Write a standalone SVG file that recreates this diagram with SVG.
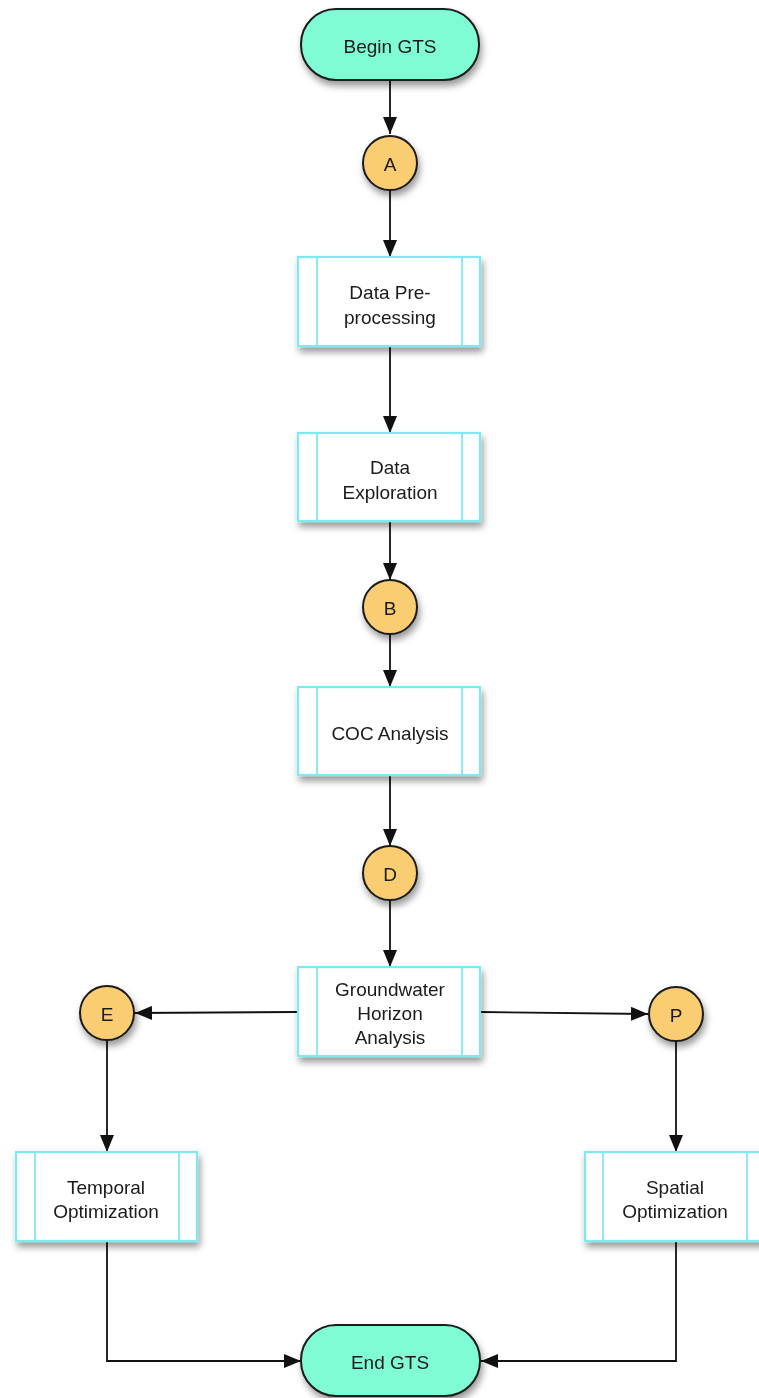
<svg xmlns="http://www.w3.org/2000/svg" width="759" height="1398" viewBox="0 0 759 1398">
<style>
.term{fill:#7ffbd6;stroke:#1a1a1a;stroke-width:2}
.circ{fill:#fbcd72;stroke:#1a1a1a;stroke-width:2}
.box{fill:#ffffff;stroke:#7ee9f0;stroke-width:2.2}
.inner{stroke:#7ee9f0;stroke-width:1.8;fill:none}
text{font-family:"Liberation Sans",Arial,sans-serif;font-size:19px;fill:#1a1a1a;text-anchor:middle;dominant-baseline:central}
.edge{stroke:#111;stroke-width:1.8;fill:none;marker-end:url(#arr)}
</style>
<defs>
<marker id="arr" viewBox="0 0 17 14" refX="17" refY="7" markerWidth="17" markerHeight="14" markerUnits="userSpaceOnUse" orient="auto">
<path d="M0,0 L17,7 L0,14 z" fill="#111"/>
</marker>
<filter id="sh" x="-20%" y="-20%" width="150%" height="150%">
<feDropShadow dx="2" dy="5" stdDeviation="3.5" flood-color="#000" flood-opacity="0.4"/>
</filter>
</defs>
<g id="connectors">
<path class="edge" d="M390,80 L390,134"/>
<path class="edge" d="M390,190 L390,257"/>
<path class="edge" d="M390,346 L390,433"/>
<path class="edge" d="M390,521 L390,580"/>
<path class="edge" d="M390,634 L390,687"/>
<path class="edge" d="M390,775 L390,846"/>
<path class="edge" d="M390,900 L390,967"/>
<path class="edge" d="M297,1012 L135,1013"/>
<path class="edge" d="M481,1012 L648,1014"/>
<path class="edge" d="M107,1040 L107,1152"/>
<path class="edge" d="M676,1041 L676,1152"/>
<path class="edge" d="M107,1241 L107,1361 L301,1361"/>
<path class="edge" d="M676,1241 L676,1361 L481,1361"/>
</g>
<g id="begin" filter="url(#sh)">
<rect class="term" x="301" y="9" width="178" height="71" rx="35" ry="35"/>
<text x="390" y="46">Begin GTS</text>
</g>
<g id="A" filter="url(#sh)">
<circle class="circ" cx="390" cy="163" r="27"/>
<text x="390" y="164">A</text>
</g>
<g id="preproc" filter="url(#sh)">
<rect class="box" x="298" y="257" width="182" height="89"/>
<line class="inner" x1="317" y1="257" x2="317" y2="346"/>
<line class="inner" x1="462" y1="257" x2="462" y2="346"/>
<text x="390" y="292">Data Pre-</text>
<text x="390" y="317">processing</text>
</g>
<g id="explore" filter="url(#sh)">
<rect class="box" x="298" y="433" width="182" height="88"/>
<line class="inner" x1="317" y1="433" x2="317" y2="521"/>
<line class="inner" x1="462" y1="433" x2="462" y2="521"/>
<text x="390" y="467">Data</text>
<text x="390" y="492">Exploration</text>
</g>
<g id="B" filter="url(#sh)">
<circle class="circ" cx="390" cy="607" r="27"/>
<text x="390" y="608">B</text>
</g>
<g id="coc" filter="url(#sh)">
<rect class="box" x="298" y="687" width="182" height="88"/>
<line class="inner" x1="317" y1="687" x2="317" y2="775"/>
<line class="inner" x1="462" y1="687" x2="462" y2="775"/>
<text x="390" y="733">COC Analysis</text>
</g>
<g id="D" filter="url(#sh)">
<circle class="circ" cx="390" cy="873" r="27"/>
<text x="390" y="874">D</text>
</g>
<g id="groundwater" filter="url(#sh)">
<rect class="box" x="298" y="967" width="182" height="89"/>
<line class="inner" x1="317" y1="967" x2="317" y2="1056"/>
<line class="inner" x1="462" y1="967" x2="462" y2="1056"/>
<text x="390" y="989">Groundwater</text>
<text x="390" y="1013">Horizon</text>
<text x="390" y="1037">Analysis</text>
</g>
<g id="E" filter="url(#sh)">
<circle class="circ" cx="107" cy="1013" r="27"/>
<text x="107" y="1014">E</text>
</g>
<g id="P" filter="url(#sh)">
<circle class="circ" cx="676" cy="1014" r="27"/>
<text x="676" y="1015">P</text>
</g>
<g id="temporal" filter="url(#sh)">
<rect class="box" x="16" y="1152" width="181" height="89"/>
<line class="inner" x1="35" y1="1152" x2="35" y2="1241"/>
<line class="inner" x1="179" y1="1152" x2="179" y2="1241"/>
<text x="106" y="1187">Temporal</text>
<text x="106" y="1211">Optimization</text>
</g>
<g id="spatial" filter="url(#sh)">
<rect class="box" x="585" y="1152" width="181" height="89"/>
<line class="inner" x1="603" y1="1152" x2="603" y2="1241"/>
<line class="inner" x1="747" y1="1152" x2="747" y2="1241"/>
<text x="675" y="1187">Spatial</text>
<text x="675" y="1211">Optimization</text>
</g>
<g id="end" filter="url(#sh)">
<rect class="term" x="301" y="1325" width="179" height="71" rx="35" ry="35"/>
<text x="390" y="1362">End GTS</text>
</g>
</svg>
